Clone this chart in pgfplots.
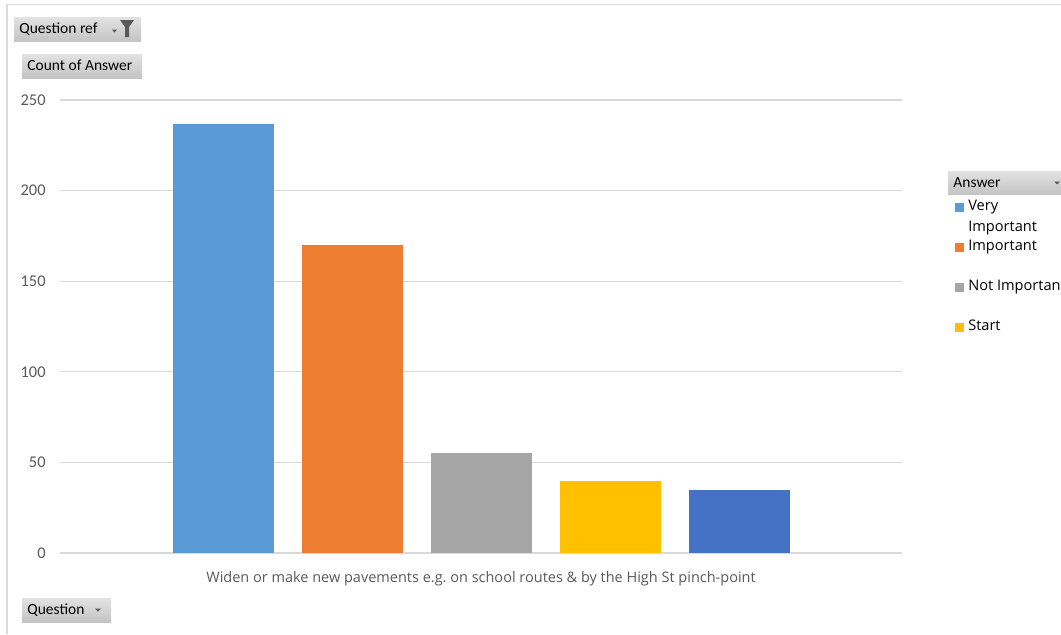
\documentclass[border=0pt]{standalone}
\usepackage{pgfplots}
\pgfplotsset{compat=1.18}
\usepackage{fontspec}
\setmainfont{Carlito}
\newfontfamily\osans{Open Sans}
\frenchspacing
\definecolor{cBlue}{HTML}{5B9BD5}
\definecolor{cOrange}{HTML}{ED7D31}
\definecolor{cGrey}{HTML}{A5A5A5}
\definecolor{cYellow}{HTML}{FFC000}
\definecolor{cDBlue}{HTML}{4472C4}
\definecolor{tickgrey}{HTML}{595959}
\definecolor{gridgrey}{HTML}{D9D9D9}
\definecolor{btntop}{HTML}{E2E2E2}
\definecolor{btnbot}{HTML}{C4C4C4}
\definecolor{icongrey}{HTML}{595959}
\pgfplotsset{
  /pgfplots/ybar legend/.style={
    /pgfplots/legend image code/.code={%
      \fill[##1,draw=none] (0pt,-0.6pt) rectangle (4.4pt,3.8pt);},
  },
}
\begin{document}
\begin{tikzpicture}[x=0.5pt,y=-0.5pt]
\useasboundingbox (0,0) rectangle (1061,634);
\clip (0,0) rectangle (1061,634);
% outer frame
\draw[gridgrey, line width=0.75pt] (7,634) -- (7,4.5) -- (1061,4.5);
% buttons
\shade[top color=btntop, bottom color=btnbot] (14,17) rectangle (141,41);
\node[anchor=base west, inner sep=0pt, font=\fontsize{7.75}{9}\selectfont] at (19,33.5) {Question ref};
\fill[icongrey] (112,29.5) -- (117,29.5) -- (114.5,32.5) -- cycle;
\fill[icongrey] (120,20) -- (134,20) -- (129,27) -- (129,37) -- (125,37) -- (125,27) -- cycle;
\shade[top color=btntop, bottom color=btnbot] (22,54) rectangle (142,78);
\node[anchor=base west, inner sep=0pt, font=\fontsize{7.75}{9}\selectfont] at (27,70.5) {Count of Answer};
\shade[top color=btntop, bottom color=btnbot] (22,598) rectangle (111,622);
\node[anchor=base west, inner sep=0pt, font=\fontsize{7.75}{9}\selectfont] at (27,614.5) {Question};
\fill[icongrey] (95,608.5) -- (101,608.5) -- (98,611.5) -- cycle;
\shade[top color=btntop, bottom color=btnbot] (948,171) rectangle (1061,194);
\node[anchor=base west, inner sep=0pt, font=\fontsize{7.75}{9}\selectfont] at (953,187.5) {Answer};
\fill[icongrey] (1054,181.5) -- (1060,181.5) -- (1057,184.5) -- cycle;
\begin{axis}[
  at={(30pt,-276.5pt)}, anchor=south west,
  scale only axis, width=421pt, height=226.5pt,
  ybar=14pt, bar width=50.5pt,
  xmin=-1, xmax=1, ymin=0, ymax=250,
  ytick={0,50,100,150,200,250},
  xtick={0},
  xticklabels={Widen or make new pavements e.g. on school routes \& by the High St pinch-point},
  ymajorgrids, grid style={gridgrey, line width=0.6pt},
  axis x line*=bottom, axis y line*=left,
  x axis line style={gridgrey, line width=0.6pt},
  y axis line style={draw=none},
  major tick length=0pt,
  xtick style={draw=none}, ytick style={draw=none},
  /pgf/number format/assume math mode=true,
  yticklabel style={font=\fontsize{8.2}{9}\selectfont, text=tickgrey, inner sep=0pt, anchor=east, xshift=-7pt},
  xticklabel style={font=\osans\fontsize{7.25}{8}\selectfont, text=tickgrey, inner sep=0pt, yshift=-9pt},
  legend style={at={(1.063,0.779)}, anchor=north west, draw=none, fill=none,
    font=\osans\fontsize{7.3}{10.5}\selectfont, row sep=0pt, inner sep=0pt,
    column sep=2pt,
    nodes={text height=5pt, text depth=15pt, anchor=base west, inner sep=0pt}},
  legend cell align=left,
]
\addplot[fill=cBlue, draw=none] coordinates {(0,237)};
\addplot[fill=cOrange, draw=none] coordinates {(0,170)};
\addplot[fill=cGrey, draw=none] coordinates {(0,55)};
\addplot[fill=cYellow, draw=none] coordinates {(0,40)};
\addplot[fill=cDBlue, draw=none] coordinates {(0,35)};
\legend{\begin{tabular}[t]{@{}l@{}}Very\\Important\end{tabular}, Important, Not Important, Start}
\end{axis}
\end{tikzpicture}
\end{document}
